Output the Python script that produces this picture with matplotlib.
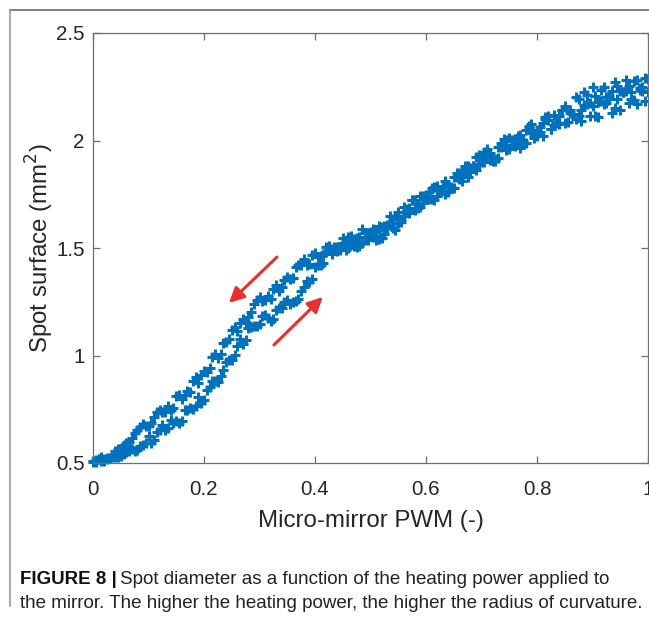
import matplotlib
matplotlib.use("Agg")
import matplotlib.pyplot as plt
from matplotlib.lines import Line2D

# ---------------- data ----------------
pwm = [0.00, 0.01, 0.02, 0.03, 0.04, 0.05, 0.06, 0.07, 0.08, 0.09,
       0.10, 0.11, 0.12, 0.13, 0.14, 0.15, 0.16, 0.17, 0.18, 0.19,
       0.20, 0.21, 0.22, 0.23, 0.24, 0.25, 0.26, 0.27, 0.28, 0.29,
       0.30, 0.31, 0.32, 0.33, 0.34, 0.35, 0.36, 0.37, 0.38, 0.39,
       0.40, 0.41, 0.42, 0.43, 0.44, 0.45, 0.46, 0.47, 0.48, 0.49,
       0.50, 0.51, 0.52, 0.53, 0.54, 0.55, 0.56, 0.57, 0.58, 0.59,
       0.60, 0.61, 0.62, 0.63, 0.64, 0.65, 0.66, 0.67, 0.68, 0.69,
       0.70, 0.71, 0.72, 0.73, 0.74, 0.75, 0.76, 0.77, 0.78, 0.79,
       0.80, 0.81, 0.82, 0.83, 0.84, 0.85, 0.86, 0.87, 0.88, 0.89,
       0.90, 0.91, 0.92, 0.93, 0.94, 0.95, 0.96, 0.97, 0.98, 0.99, 1.00]

pwm_half = [0.005, 0.015, 0.025, 0.035, 0.045, 0.055, 0.065, 0.075, 0.085, 0.095,
            0.105, 0.115, 0.125, 0.135, 0.145, 0.155, 0.165, 0.175, 0.185, 0.195,
            0.205, 0.215, 0.225, 0.235, 0.245, 0.255, 0.265, 0.275, 0.285, 0.295,
            0.305, 0.315, 0.325, 0.335, 0.345, 0.355, 0.365, 0.375, 0.385, 0.395,
            0.405, 0.415, 0.425, 0.435, 0.445, 0.455, 0.465, 0.475, 0.485, 0.495,
            0.505, 0.515, 0.525, 0.535, 0.545, 0.555, 0.565, 0.575, 0.585, 0.595,
            0.605, 0.615, 0.625, 0.635, 0.645, 0.655, 0.665, 0.675, 0.685, 0.695,
            0.705, 0.715, 0.725, 0.735, 0.745, 0.755, 0.765, 0.775, 0.785, 0.795,
            0.805, 0.815, 0.825, 0.835, 0.845, 0.855, 0.865, 0.875, 0.885, 0.895,
            0.905, 0.915, 0.925, 0.935, 0.945, 0.955, 0.965, 0.975, 0.985, 0.995]

# increasing PWM (lower branch of the hysteresis loop)
surface_up = [0.510, 0.517, 0.510, 0.525, 0.528, 0.532, 0.551, 0.565, 0.560, 0.585,
              0.625, 0.605, 0.655, 0.655, 0.700, 0.695, 0.695, 0.745, 0.750, 0.805,
              0.795, 0.855, 0.880, 0.905, 0.970, 0.980, 1.045, 1.055, 1.130, 1.135,
              1.145, 1.190, 1.162, 1.210, 1.220, 1.260, 1.250, 1.265, 1.320, 1.340,
              1.410, 1.420, 1.480, 1.470, 1.505, 1.545, 1.502, 1.540, 1.510, 1.568,
              1.555, 1.535, 1.598, 1.605, 1.595, 1.668, 1.650, 1.685, 1.675, 1.742,
              1.745, 1.728, 1.790, 1.765, 1.790, 1.780, 1.850, 1.860, 1.852, 1.923,
              1.900, 1.922, 1.905, 1.970, 2.005, 1.960, 2.005, 1.965, 2.050, 2.035,
              2.020, 2.080, 2.115, 2.070, 2.115, 2.080, 2.130, 2.100, 2.090, 2.170,
              2.160, 2.110, 2.170, 2.195, 2.150, 2.140, 2.230, 2.195, 2.170, 2.230, 2.225]

surface_up_half = [0.516, 0.509, 0.518, 0.529, 0.528, 0.542, 0.556, 0.555, 0.580, 0.595,
                   0.595, 0.645, 0.675, 0.663, 0.688, 0.685, 0.745, 0.758, 0.763, 0.780,
                   0.840, 0.883, 0.878, 0.933, 0.980, 1.003, 1.075, 1.073, 1.133, 1.135,
                   1.183, 1.176, 1.171, 1.220, 1.250, 1.240, 1.253, 1.298, 1.345, 1.355,
                   1.420, 1.430, 1.500, 1.498, 1.500, 1.489, 1.556, 1.545, 1.524, 1.572,
                   1.550, 1.602, 1.567, 1.605, 1.647, 1.619, 1.683, 1.725, 1.704, 1.709,
                   1.762, 1.724, 1.768, 1.813, 1.780, 1.830, 1.810, 1.881, 1.883, 1.892,
                   1.946, 1.909, 1.903, 1.968, 2.003, 1.978, 2.020, 1.983, 2.068, 2.023,
                   2.065, 2.108, 2.053, 2.088, 2.143, 2.085, 2.125, 2.115, 2.165, 2.115,
                   2.115, 2.185, 2.173, 2.128, 2.195, 2.225, 2.173, 2.188, 2.235, 2.183]

# decreasing PWM (upper branch of the hysteresis loop)
surface_down = [0.505, 0.520, 0.520, 0.525, 0.555, 0.560, 0.595, 0.615, 0.655, 0.680,
                0.670, 0.715, 0.745, 0.735, 0.745, 0.810, 0.800, 0.835, 0.880, 0.870,
                0.930, 0.940, 1.005, 1.005, 1.065, 1.120, 1.115, 1.170, 1.180, 1.240,
                1.270, 1.260, 1.265, 1.330, 1.320, 1.365, 1.360, 1.420, 1.450, 1.425,
                1.475, 1.465, 1.505, 1.495, 1.485, 1.525, 1.552, 1.510, 1.550, 1.538,
                1.575, 1.575, 1.548, 1.595, 1.635, 1.618, 1.690, 1.665, 1.725, 1.692,
                1.735, 1.778, 1.740, 1.785, 1.760, 1.830, 1.820, 1.880, 1.872, 1.863,
                1.930, 1.962, 1.925, 1.920, 1.975, 2.010, 1.975, 2.025, 1.990, 2.075,
                2.050, 2.020, 2.095, 2.120, 2.075, 2.160, 2.140, 2.200, 2.140, 2.210,
                2.250, 2.180, 2.250, 2.205, 2.270, 2.230, 2.280, 2.225, 2.280, 2.250, 2.285]

surface_down_half = [0.504, 0.527, 0.522, 0.532, 0.567, 0.586, 0.598, 0.641, 0.669, 0.671,
                     0.686, 0.739, 0.735, 0.767, 0.754, 0.818, 0.817, 0.830, 0.899, 0.911,
                     0.923, 0.992, 0.987, 1.057, 1.077, 1.131, 1.149, 1.156, 1.203, 1.258,
                     1.254, 1.278, 1.310, 1.302, 1.349, 1.356, 1.413, 1.420, 1.420, 1.467,
                     1.458, 1.474, 1.508, 1.506, 1.492, 1.531, 1.526, 1.505, 1.589, 1.537,
                     1.590, 1.542, 1.602, 1.650, 1.582, 1.634, 1.673, 1.725, 1.684, 1.744,
                     1.727, 1.784, 1.768, 1.753, 1.785, 1.850, 1.855, 1.831, 1.883, 1.932,
                     1.901, 1.944, 1.913, 1.988, 1.958, 2.003, 2.000, 1.998, 2.058, 2.013,
                     2.040, 2.098, 2.053, 2.083, 2.143, 2.140, 2.125, 2.195, 2.225, 2.175,
                     2.205, 2.235, 2.203, 2.228, 2.255, 2.225, 2.253, 2.278, 2.245, 2.293]

xticks = [0, 0.2, 0.4, 0.6, 0.8, 1]
xtick_labels = ["0", "0.2", "0.4", "0.6", "0.8", "1"]
yticks = [0.5, 1, 1.5, 2, 2.5]
ytick_labels = ["0.5", "1", "1.5", "2", "2.5"]

# ---------------- figure ----------------
W, H = 649, 618
fig = plt.figure(figsize=(W / 100, H / 100), dpi=100)
fig.patch.set_facecolor("white")

ax = fig.add_axes([93 / W, 1 - 463 / H, 555 / W, 430 / H])

blue = "#0072BD"
for xs, ys in ((pwm, surface_up), (pwm_half, surface_up_half),
               (pwm, surface_down), (pwm_half, surface_down_half)):
    ax.plot(xs, ys, linestyle="none", marker="+", markersize=7,
            markeredgewidth=2.2, color=blue, clip_on=False)

ax.set_xlim(0, 1)
ax.set_ylim(0.5, 2.5)
ax.set_xticks(xticks)
ax.set_xticklabels(xtick_labels)
ax.set_yticks(yticks)
ax.set_yticklabels(ytick_labels)

font = "Liberation Sans"
axcol = "#6e6e6e"
ax.tick_params(direction="in", top=True, right=True, length=5, width=0.9,
               color=axcol, labelsize=14.8, labelcolor="#262626")
ax.tick_params(axis="x", pad=12)
ax.tick_params(axis="y", pad=6)
for lab in ax.get_xticklabels() + ax.get_yticklabels():
    lab.set_fontfamily(font)
for s in ax.spines.values():
    s.set_color(axcol)
    s.set_linewidth(0.9)

ax.set_xlabel("Micro-mirror PWM (-)", fontsize=17.3, family=font, color="#262626", labelpad=8)
ax.set_ylabel("Spot surface (mm$^2$)", fontsize=17.3, family=font, color="#262626", labelpad=0)

# red arrows
red = "#E8312F"
ax.annotate("", xy=(0.245, 1.244), xytext=(0.3315, 1.458),
            arrowprops=dict(arrowstyle="-|>,head_length=0.9,head_width=0.45",
                            color=red, lw=2.2, shrinkA=0, shrinkB=0))
ax.annotate("", xy=(0.414, 1.272), xytext=(0.326, 1.049),
            arrowprops=dict(arrowstyle="-|>,head_length=0.9,head_width=0.45",
                            color=red, lw=2.2, shrinkA=0, shrinkB=0))

# page frame lines
fig.add_artist(Line2D([10 / W, 1], [1 - 10 / H, 1 - 10 / H], color="#6a6a6a", lw=1.2))
fig.add_artist(Line2D([10 / W, 10 / W], [1 - 10 / H, 1 - 606 / H], color="#9a9a9a", lw=1.2))

# caption
cfont = ["Liberation Sans", "DejaVu Sans"]
csize = 13.5
t1 = fig.text(20 / W, 1 - 580 / H, "FIGURE 8 |", fontsize=csize, fontweight="bold",
              family=cfont, va="center", ha="left", color="#111111")
fig.canvas.draw()
bb = t1.get_window_extent()
fig.text(bb.x1 / W + 3 / W, 1 - 580 / H,
         "Spot diameter as a function of the heating power applied to",
         fontsize=csize, family=cfont, va="center", ha="left", color="#222222")
fig.text(20 / W, 1 - 603 / H,
         "the mirror. The higher the heating power, the higher the radius of curvature.",
         fontsize=csize, family=cfont, va="center", ha="left", color="#222222")

fig.savefig("out.png", dpi=100)
